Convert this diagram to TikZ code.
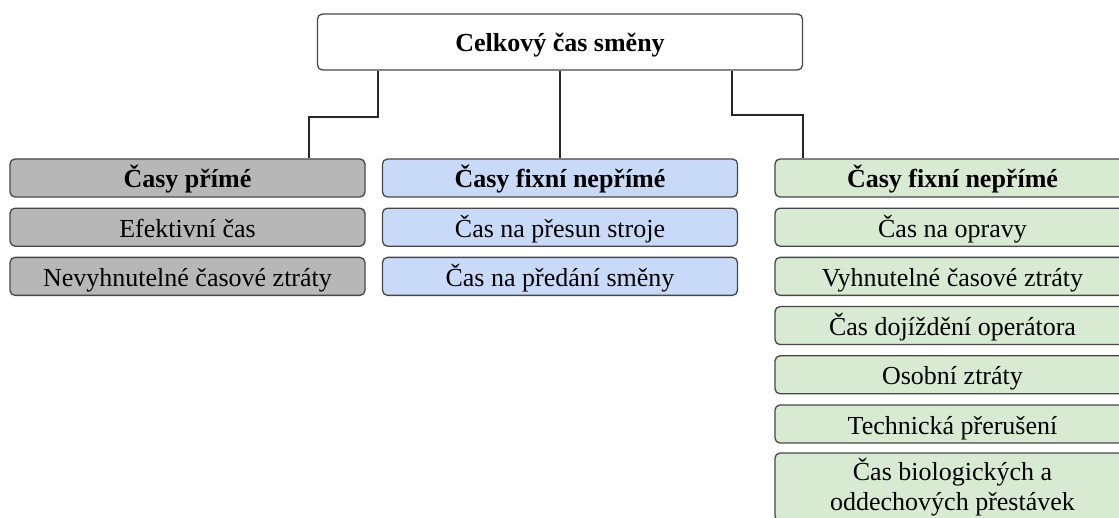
\documentclass[tikz,border=0pt]{standalone}
\usepackage{fontspec}
\setmainfont{Liberation Serif}
\definecolor{boxgrey}{HTML}{B7B7B7}
\definecolor{boxblue}{HTML}{C9DAF8}
\definecolor{boxgreen}{HTML}{D9EAD3}
\definecolor{edge}{HTML}{474747}
\begin{document}
\begin{tikzpicture}[x=1pt,y=-1pt,
		item/.style={draw=edge,line width=1.3pt,rounded corners=5pt,minimum width=355pt,minimum height=38pt,inner sep=0pt,font=\fontsize{26}{30}\selectfont,text height=20pt,text depth=0pt},
		head/.style={item,font=\fontsize{26}{30}\selectfont\bfseries},
		link/.style={line width=1.5pt,draw=black!85}]
				\useasboundingbox (0,0) rectangle (1119,518);
				\clip (0,0) rectangle (1119,518);
				% Root
				\node[head,fill=white,minimum width=485pt,minimum height=56pt] (top) at (560,42) {Celkový čas směny};
				% Direct times
				\node[head,fill=boxgrey] (p0) at (187.5,178) {Časy přímé};
				\node[item,fill=boxgrey] (p1) at (187.5,227.2) {Efektivní čas};
				\node[item,fill=boxgrey] (p2) at (187.5,276.4) {Nevyhnutelné časové ztráty};
				% Fixed indirect times
				\node[head,fill=boxblue] (f0) at (560,178) {Časy fixní nepřímé};
				\node[item,fill=boxblue] (f1) at (560,227.2) {Čas na přesun stroje};
				\node[item,fill=boxblue] (f2) at (560,276.4) {Čas na předání směny};
				% Variable indirect times
				\node[head,fill=boxgreen] (n0) at (952.5,178) {Časy fixní nepřímé};
				\node[item,fill=boxgreen] (n1) at (952.5,227.2) {Čas na opravy};
				\node[item,fill=boxgreen] (n2) at (952.5,276.4) {Vyhnutelné časové ztráty};
				\node[item,fill=boxgreen] (n3) at (952.5,325.6) {Čas dojíždění operátora};
				\node[item,fill=boxgreen] (n4) at (952.5,374.8) {Osobní ztráty};
				\node[item,fill=boxgreen] (n5) at (952.5,424) {Technická přerušení};
				\node[item,fill=boxgreen,align=center,minimum height=68pt,text height=,text depth=] (n6) at (952.5,487) {Čas biologických a\\oddechových přestávek};
				% Links
				\coordinate (jl) at (309,117);
				\coordinate (jr) at (803,115);
				\draw[link] (top.south -| 378,0) |- (jl) -- (jl |- p0.north);
				\draw[link] (top) -- (f0);
				\draw[link] (top.south -| 732,0) |- (jr) -- (jr |- n0.north);
			\end{tikzpicture}
\end{document}
